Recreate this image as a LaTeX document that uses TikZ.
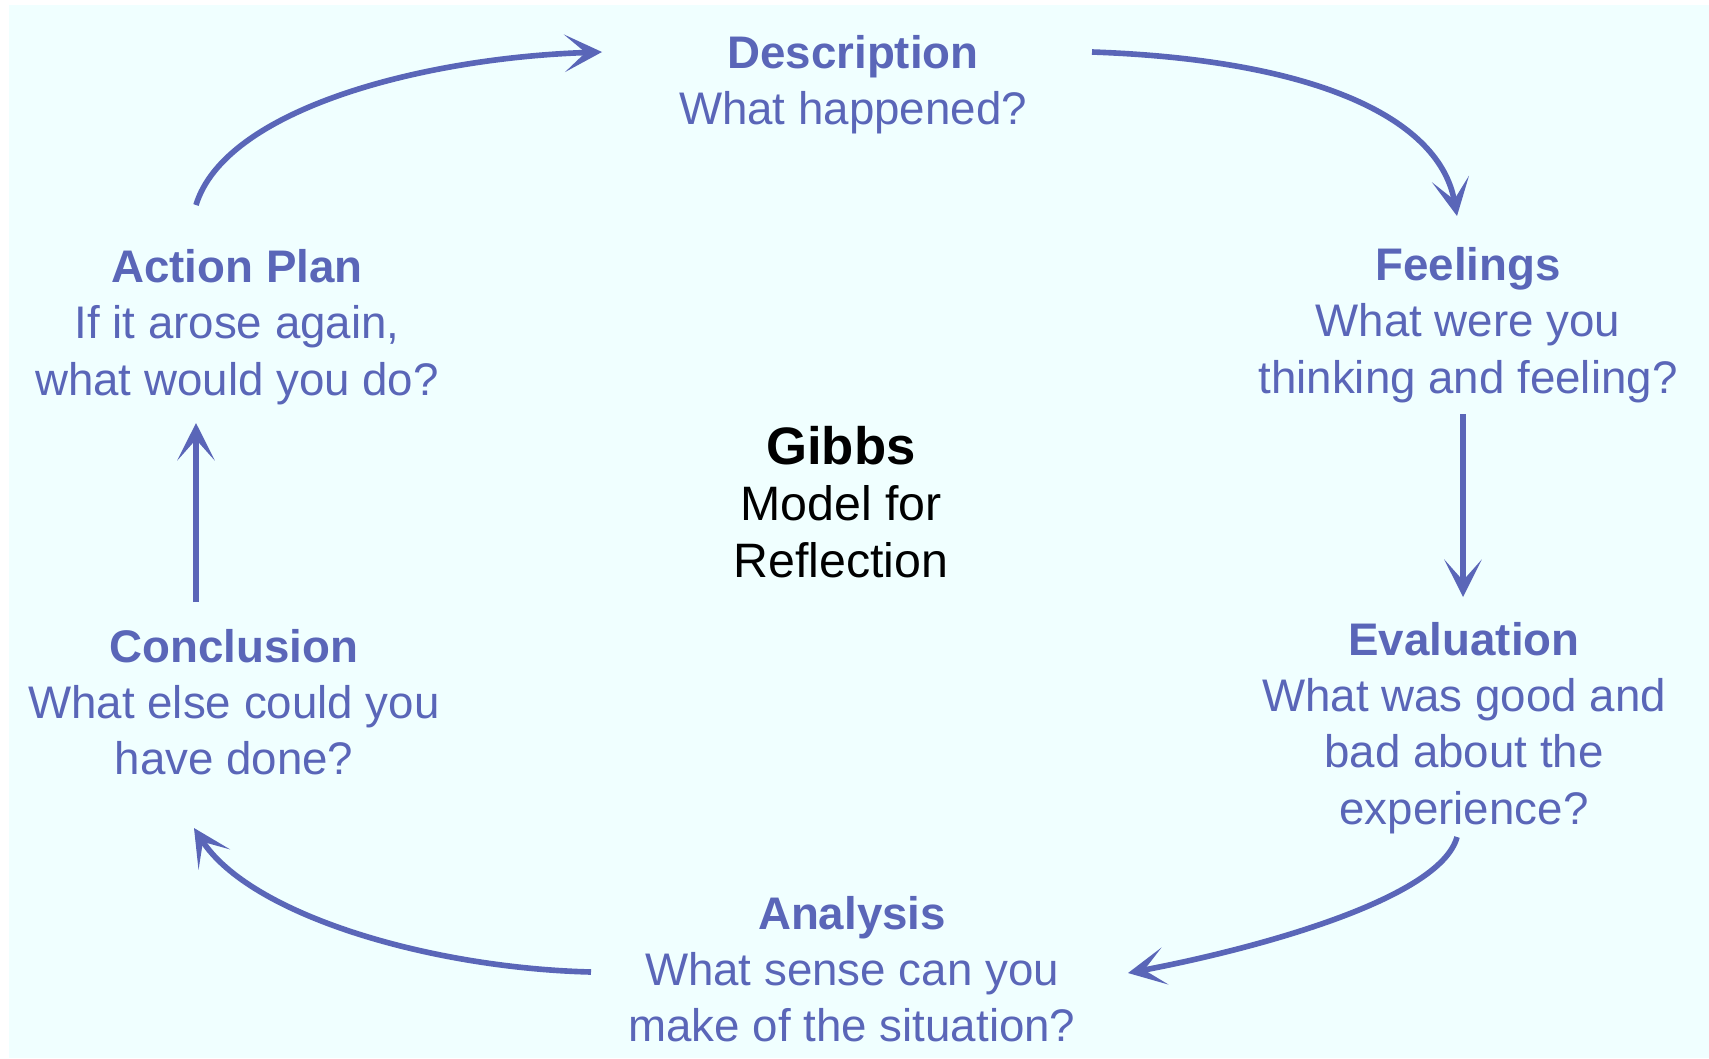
\documentclass[tikz,border=0pt]{standalone}
\usepackage{fontspec}
\setmainfont{Liberation Sans}
\usetikzlibrary{arrows.meta,calc}
\definecolor{mblue}{RGB}{90,102,184}
\definecolor{bgcyan}{RGB}{240,255,255}
\begin{document}
\begin{tikzpicture}[x=0.02cm,y=-0.02cm,
  lbl/.style={align=center,text=mblue,font=\fontsize{26pt}{32pt}\selectfont,inner sep=0pt},
  ctr/.style={align=center,text=black,font=\fontsize{27.5pt}{32pt}\selectfont,inner sep=0pt},
  arr/.style={draw=mblue,line width=3.2pt,-{Stealth[length=0.75cm,width=0.75cm,inset=0.42cm]}}]
\useasboundingbox (0,0) rectangle (1709,1058);
\fill[white] (0,0) rectangle (1709,1058);
\fill[bgcyan] (9,5) rectangle (1709,1058);

\node[lbl] (desc) at (853,85) {{\bfseries Description}\\What happened?};
\node[lbl] (feel) at (1468,325) {{\bfseries Feelings}\\What were you\\thinking and feeling?};
\node[lbl] (eval) at (1464,728) {{\bfseries Evaluation}\\What was good and\\bad about the\\experience?};
\node[lbl] (anal) at (852,969) {{\bfseries Analysis}\\What sense can you\\make of the situation?};
\node[lbl] (concl) at (234,702) {{\bfseries Conclusion}\\What else could you\\have done?};
\node[lbl] (act) at (237,327) {{\bfseries Action Plan}\\If it arose again,\\what would you do?};
\node[ctr] (gibbs) at (841,502)
  {{\fontsize{30pt}{32pt}\selectfont\bfseries Gibbs}\\Model for\\Reflection};

\draw[arr] ($(act)+(-41,-122)$) .. controls (225,110) and (420,58) .. ($(desc)+(-251,-33)$);
\draw[arr] ($(desc)+(239,-33)$) .. controls (1320,60) and (1440,120) .. ($(feel)+(-11,-109)$);
\draw[arr] ($(feel)+(-5,89)$) -- ($(eval)+(-1,-131)$);
\draw[arr] ($(eval)+(-7,109)$) .. controls (1440,900) and (1250,950) .. ($(anal)+(276,4)$);
\draw[arr] ($(anal)+(-261,3)$) .. controls (430,968) and (250,915) .. ($(concl)+(-40,126)$);
\draw[arr] ($(concl)+(-38,-100)$) -- ($(act)+(-41,96)$);
\end{tikzpicture}
\end{document}
